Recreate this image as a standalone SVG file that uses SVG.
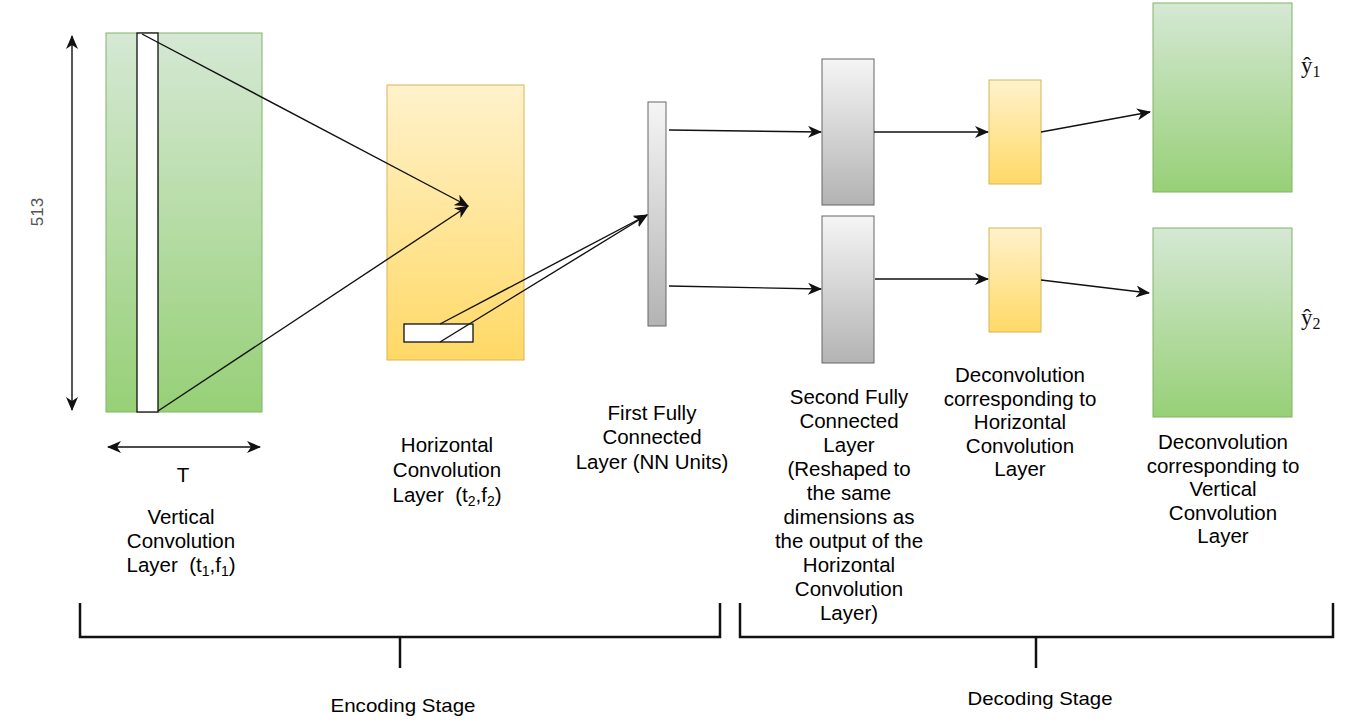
<svg xmlns="http://www.w3.org/2000/svg" width="1359" height="724" viewBox="0 0 1359 724">
<style>
.lbl{font-family:"Liberation Sans",Arial,sans-serif;font-size:20.5px;fill:#000;text-anchor:middle}
.stage{font-family:"Liberation Sans",Arial,sans-serif;font-size:19px;fill:#000;text-anchor:middle}
.hat{font-family:"Liberation Serif","Times New Roman",serif;font-size:23px;fill:#111}
.conn{stroke:#111;stroke-width:1.4;fill:none}
.br{stroke:#111;stroke-width:2.5;fill:none}
.g{fill:url(#gGreen);stroke:#82b366;stroke-width:1}
.y{fill:url(#gYellow);stroke:#d6b656;stroke-width:1}
.k{fill:url(#gGray);stroke:#666;stroke-width:1}
</style>
<defs>
<linearGradient id="gGreen" x1="0" y1="0" x2="0" y2="1"><stop offset="0" stop-color="#d5e8d4"/><stop offset="1" stop-color="#97d077"/></linearGradient>
<linearGradient id="gYellow" x1="0" y1="0" x2="0" y2="1"><stop offset="0" stop-color="#fff2cc"/><stop offset="1" stop-color="#ffd966"/></linearGradient>
<linearGradient id="gGray" x1="0" y1="0" x2="0" y2="1"><stop offset="0" stop-color="#f5f5f5"/><stop offset="1" stop-color="#b3b3b3"/></linearGradient>
<marker id="ah" markerUnits="userSpaceOnUse" markerWidth="14" markerHeight="12" viewBox="0 0 14 12" refX="13" refY="6" orient="auto-start-reverse">
<path d="M0,0 L14,6 L0,12 L4,6 z" fill="#111"/>
</marker>
</defs>

<g id="vertical-conv">
<rect class="g" x="106" y="33" width="156" height="379"/>
<rect x="137" y="33" width="21" height="379" fill="#fff" stroke="#111" stroke-width="1.3"/>
<text class="lbl" x="181" y="524">Vertical<tspan x="181" dy="24">Convolution</tspan><tspan x="181" dy="24">Layer&#160; (t<tspan font-size="14" baseline-shift="-4">1</tspan>,f<tspan font-size="14" baseline-shift="-4">1</tspan>)</tspan></text>
</g>

<g id="dim-513">
<line class="conn" x1="72" y1="36" x2="72" y2="410" marker-start="url(#ah)" marker-end="url(#ah)"/>
<text x="37" y="212" transform="rotate(-90 37 212)" font-family="'Liberation Sans',Arial,sans-serif" font-size="17" fill="#555" text-anchor="middle" dominant-baseline="central">513</text>
</g>

<g id="dim-T">
<line class="conn" x1="108" y1="447" x2="260" y2="447" marker-start="url(#ah)" marker-end="url(#ah)"/>
<text class="lbl" x="183" y="482">T</text>
</g>

<g id="horizontal-conv">
<rect class="y" x="387" y="85" width="137" height="275"/>
<rect x="404" y="324" width="69" height="18" fill="#fff" stroke="#111" stroke-width="1.3"/>
<text class="lbl" x="447" y="452">Horizontal<tspan x="447" dy="25">Convolution</tspan><tspan x="447" dy="25">Layer&#160; (t<tspan font-size="14" baseline-shift="-4">2</tspan>,f<tspan font-size="14" baseline-shift="-4">2</tspan>)</tspan></text>
</g>

<g id="fc1">
<rect class="k" x="648" y="102" width="18" height="224"/>
<text class="lbl" x="652" y="420">First Fully<tspan x="652" dy="24">Connected</tspan><tspan x="652" dy="25">Layer (NN Units)</tspan></text>
</g>

<g id="fc2">
<rect class="k" x="822" y="59" width="52" height="146"/>
<rect class="k" x="822" y="216" width="52" height="147"/>
<text class="lbl" x="849" y="404">Second Fully<tspan x="849" dy="24">Connected</tspan><tspan x="849" dy="24">Layer</tspan><tspan x="849" dy="24">(Reshaped to</tspan><tspan x="849" dy="24">the same</tspan><tspan x="849" dy="24">dimensions as</tspan><tspan x="849" dy="24">the output of the</tspan><tspan x="849" dy="24">Horizontal</tspan><tspan x="849" dy="24">Convolution</tspan><tspan x="849" dy="24">Layer)</tspan></text>
</g>

<g id="deconv-h">
<rect class="y" x="989" y="80" width="52" height="104"/>
<rect class="y" x="989" y="228" width="52" height="104"/>
<text class="lbl" x="1020" y="382">Deconvolution<tspan x="1020" dy="23.5">corresponding to</tspan><tspan x="1020" dy="23.5">Horizontal</tspan><tspan x="1020" dy="23.5">Convolution</tspan><tspan x="1020" dy="23.5">Layer</tspan></text>
</g>

<g id="deconv-v">
<rect class="g" x="1153" y="3" width="139" height="189"/>
<rect class="g" x="1153" y="228" width="139" height="189"/>
<text class="hat" x="1301" y="73">ŷ<tspan font-size="16" baseline-shift="-4">1</tspan></text>
<text class="hat" x="1301" y="325">ŷ<tspan font-size="16" baseline-shift="-4">2</tspan></text>
<text class="lbl" x="1223" y="449">Deconvolution<tspan x="1223" dy="23.5">corresponding to</tspan><tspan x="1223" dy="23.5">Vertical</tspan><tspan x="1223" dy="23.5">Convolution</tspan><tspan x="1223" dy="23.5">Layer</tspan></text>
</g>

<g id="connectors">
<line class="conn" x1="142" y1="34" x2="468" y2="206" marker-end="url(#ah)"/>
<line class="conn" x1="158" y1="411" x2="468" y2="206" marker-end="url(#ah)"/>
<line class="conn" x1="440" y1="324" x2="647" y2="215" marker-end="url(#ah)"/>
<line class="conn" x1="440" y1="342" x2="647" y2="215" marker-end="url(#ah)"/>
<line class="conn" x1="669" y1="130" x2="821" y2="132" marker-end="url(#ah)"/>
<line class="conn" x1="669" y1="286" x2="821" y2="289" marker-end="url(#ah)"/>
<line class="conn" x1="874" y1="132" x2="988" y2="132" marker-end="url(#ah)"/>
<line class="conn" x1="875" y1="279" x2="988" y2="279" marker-end="url(#ah)"/>
<line class="conn" x1="1041" y1="132" x2="1150" y2="112" marker-end="url(#ah)"/>
<line class="conn" x1="1041" y1="280" x2="1149" y2="293" marker-end="url(#ah)"/>
</g>

<g id="encoding-stage">
<path class="br" d="M80,603 V637 H720 V603"/>
<line class="br" x1="400" y1="637" x2="400" y2="668"/>
<text class="stage" x="403" y="712" textLength="145" lengthAdjust="spacingAndGlyphs">Encoding Stage</text>
</g>

<g id="decoding-stage">
<path class="br" d="M740,603 V637 H1333 V603"/>
<line class="br" x1="1036" y1="637" x2="1036" y2="668"/>
<text class="stage" x="1040" y="705" textLength="145" lengthAdjust="spacingAndGlyphs">Decoding Stage</text>
</g>
</svg>
